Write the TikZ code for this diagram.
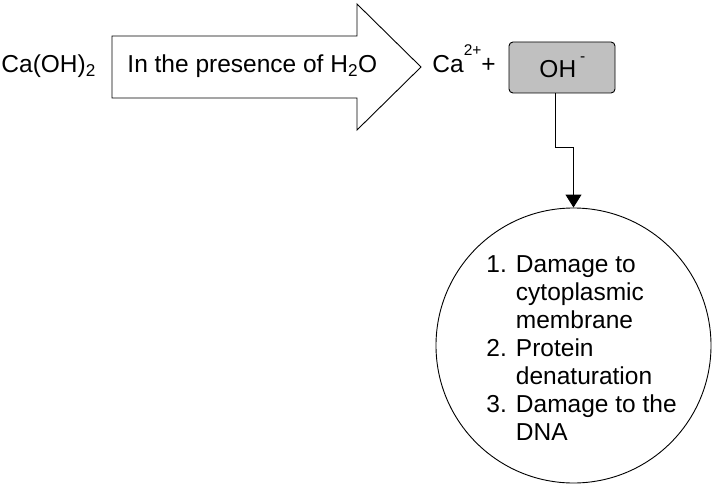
\documentclass[tikz,border=0pt]{standalone}
\usepackage{fontspec}
\setmainfont{Liberation Sans}
\usetikzlibrary{arrows.meta}
\definecolor{iongray}{RGB}{192,192,192}
\newcommand\ioncharge[2]{\raisebox{#1}[0pt][0pt]{\fontsize{15.5}{16}\selectfont #2}}
\begin{document}
\begin{tikzpicture}[x=1pt, y=-1pt, line width=0.9pt,
  every node/.style={font=\fontsize{24.5}{28}\selectfont, inner sep=0pt},
  lbl/.style={anchor=base west}]
\useasboundingbox (0,0) rectangle (718,487);
% fat arrow
\draw (112,36) -- (357,36) -- (357,4) -- (421,67) -- (357,130) -- (357,98) -- (112,98) -- cycle;
\node[lbl] (caoh) at (1,73) {Ca(OH)\textsubscript{2}};
\node[lbl] (water) at (127,73) {In the presence of H\textsubscript{2}O};
\node[lbl] (ca) at (432,72.5) {Ca\ioncharge{17pt}{2+}+};
\node[draw, fill=iongray, rounded corners=4pt, minimum width=106pt, minimum height=51pt] (oh) at (562,67.5) {};
\node[lbl] (ohtext) at (539,77.5) {OH\hspace{4pt}\ioncharge{16pt}{-}};
% effects
\node[circle, draw, minimum size=275pt] (cell) at (573.5,345.5) {};
\node[lbl] (effects) at (486,272) {\begin{tabular}[t]{@{}l@{ }l@{}}1. & Damage to\\ & cytoplasmic\\ & membrane\\ 2. & Protein\\ & denaturation\\ 3. & Damage to the\\ & DNA\end{tabular}};
\coordinate (bend) at (555,147);
\draw[-{Triangle[length=13pt,width=16pt]}] (bend |- oh.south) -- (bend) -| (cell.north);
\end{tikzpicture}
\end{document}
